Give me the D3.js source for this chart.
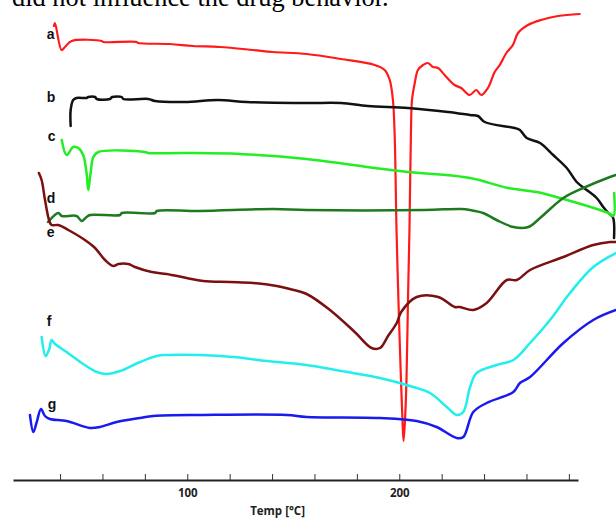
<!DOCTYPE html>
<html><head><meta charset="utf-8">
<script src="https://cdn.jsdelivr.net/npm/d3@7/dist/d3.min.js"></script>
<style>html,body{margin:0;padding:0;background:#fff;overflow:hidden}svg{display:block}</style>
</head><body>
<svg id="c" width="616" height="518"></svg>
<script>
// Temperature (°C) and heat-flow (arbitrary units)
const seriesLabels = ["a","b","c","d","e","f","g"];
const seriesColors = ["#ff1a1a","#111111","#22ee22","#1f7a1f","#7a1010","#22eeee","#1a1aee"];
const tickValues = [40,60,80,100,120,140,160,180,200,220,240,260,280];
const tickLabels = {100:"100",200:"200"};
const axisTitle = "Temp [°C]";
const captionText = "did not influence the drug behavior.";

const curveA = [[37.1,45.4],[37.6,45.7],[40.7,43.0],[42.3,43.3],[45.5,43.9],[59.6,43.9],[60.4,43.8],[76.1,43.8],[76.7,43.7],[91.8,43.6],[102.7,43.4],[115.4,43.3],[131.0,43.0],[140.4,42.8],[156.3,42.6],[172.5,42.1],[188.4,41.5],[193.1,41.0],[195.5,40.0],[197.0,38.0],[197.8,34.7],[198.7,25.0],[199.6,18.0],[200.8,10.0],[201.5,6.0],[202.0,3.9],[202.7,6.0],[203.4,10.0],[204.1,18.0],[204.8,25.0],[205.5,34.7],[206.0,38.0],[207.3,39.7],[208.8,41.0],[211.2,41.5],[213.5,41.7],[215.9,41.3],[218.3,41.2],[221.4,40.5],[226.1,39.5],[229.2,39.2],[233.2,38.5],[236.3,39.0],[238.7,38.5],[241.8,39.2],[245.0,40.8],[247.4,41.5],[250.5,42.7],[253.6,43.5],[256.0,44.7],[260.7,45.5],[266.8,46.0],[274.9,46.4],[285.1,46.6]];
const curveB = [[45.0,35.4],[45.0,37.0],[46.2,38.0],[47.8,38.2],[52.5,38.2],[53.3,38.3],[56.5,38.3],[57.3,38.1],[63.5,38.1],[64.6,38.3],[69.1,38.3],[69.8,38.1],[81.6,38.1],[84.8,37.9],[98.9,37.8],[114.5,38.0],[128.0,37.8],[156.3,37.7],[172.5,37.7],[185.2,37.4],[204.1,37.2],[223.0,36.8],[233.4,36.5],[237.1,36.4],[240.3,35.8],[254.4,35.2],[256.9,35.0],[260.1,34.2],[266.4,33.7],[272.6,32.5],[279.0,31.2],[283.7,29.8],[288.4,29.0],[293.1,28.2],[296.2,27.3],[298.6,26.7],[300.7,26.3],[301.3,25.7],[301.3,24.2]];
const curveC = [[40.8,34.0],[43.1,32.5],[46.2,33.3],[48.6,33.2],[50.9,32.5],[52.5,30.7],[53.3,29.0],[54.4,30.7],[55.7,32.3],[58.0,32.8],[80.0,32.8],[81.6,32.7],[98.9,32.7],[124.9,32.6],[156.3,32.1],[188.4,31.2],[204.1,30.8],[233.4,30.2],[251.3,29.2],[264.8,28.8],[275.8,28.2],[298.6,26.7],[301.0,26.4],[301.3,28.7]];
const curveD = [[34.3,25.8],[39.2,26.7],[40.8,26.4],[47.8,26.4],[50.2,25.9],[52.5,26.3],[54.1,26.5],[68.3,26.5],[69.1,26.7],[84.8,26.7],[85.6,26.9],[106.0,26.9],[140.6,27.1],[156.3,27.0],[212.0,27.0],[229.2,27.1],[233.4,27.0],[239.6,26.7],[245.9,26.0],[253.8,25.3],[260.9,25.3],[266.4,26.2],[277.4,28.2],[286.8,29.2],[299.4,30.3],[302.2,30.5]];
const curveE = [[30.0,30.7],[31.3,30.0],[32.9,28.0],[34.8,26.0],[36.0,25.5],[39.2,25.5],[43.9,25.0],[51.7,24.0],[56.5,23.2],[61.2,22.0],[65.1,21.4],[67.5,21.6],[72.2,21.6],[75.3,21.3],[83.2,20.8],[90.3,20.6],[99.7,20.2],[107.5,19.9],[120.1,19.8],[131.1,19.7],[142.2,19.4],[148.4,19.1],[156.3,18.6],[167.3,17.0],[179.0,14.8],[186.9,13.2],[190.9,13.2],[194.7,14.4],[198.8,15.7],[200.9,16.8],[208.2,18.3],[218.4,18.3],[226.1,17.3],[228.6,17.3],[234.9,17.0],[241.2,17.7],[250.7,20.0],[255.4,20.0],[261.7,21.0],[277.4,22.3],[291.5,23.5],[299.4,23.8],[302.2,23.8]];
const curveF = [[31.3,14.3],[33.2,12.4],[34.9,13.1],[36.0,14.0],[37.6,13.6],[43.1,12.8],[50.9,11.6],[57.3,10.8],[62.0,10.6],[68.3,10.9],[77.7,11.8],[85.6,12.4],[90.3,12.5],[106.0,12.5],[121.7,12.3],[137.5,11.9],[156.3,11.5],[172.6,10.9],[190.9,10.2],[206.6,9.3],[214.5,8.7],[222.4,7.3],[227.1,6.5],[230.2,6.8],[233.4,9.3],[236.5,10.7],[245.9,11.5],[253.8,12.0],[261.7,13.7],[271.1,16.0],[280.5,18.7],[291.5,21.3],[302.2,22.7]];
const curveG = [[25.8,6.5],[27.4,4.8],[29.0,5.8],[31.0,7.1],[32.9,6.4],[35.2,6.1],[43.1,5.9],[54.1,5.2],[58.8,5.3],[66.7,5.8],[77.7,6.2],[84.0,6.4],[107.5,6.5],[146.9,6.5],[156.3,6.3],[190.9,6.2],[208.2,5.9],[217.6,5.3],[227.1,4.2],[230.2,4.3],[234.9,6.8],[241.2,7.7],[253.8,8.8],[256.9,9.7],[261.7,10.3],[277.4,13.7],[291.5,16.0],[302.2,17.0]];
// label anchor: [temperature, heat-flow] where each letter sits
const labelAnchors = [[33.7,44.07],[33.7,37.83],[34.2,33.93],[33.7,27.73],[33.7,24.27],[33.7,15.43],[34.2,7.1]];

const series = [curveA,curveB,curveC,curveD,curveE,curveF,curveG];

const svg = d3.select("#c");
const x = d3.scaleLinear().domain([17.8, 284.3]).range([13, 578]);
const y = d3.scaleLinear().domain([0, 48]).range([480, 0]);

svg.append("text").attr("x", 12).attr("y", 6)
  .attr("font-family", "'Liberation Serif','Times New Roman',serif")
  .attr("font-size", 26.4).attr("fill", "#000").text(captionText);

const line = d3.line().x(d => x(d[0])).y(d => y(d[1])).curve(d3.curveCatmullRom.alpha(0.5));

series.forEach((s, i) => {
  svg.append("path").datum(s).attr("d", line)
    .attr("fill", "none").attr("stroke", seriesColors[i])
    .attr("stroke-width", i === 0 ? 2.2 : 2.5).attr("stroke-linejoin", "round").attr("stroke-linecap", "round");
});

seriesLabels.forEach((l, i) => {
  svg.append("text").attr("x", x(labelAnchors[i][0])).attr("y", y(labelAnchors[i][1]))
    .attr("font-family", "'Liberation Sans',Arial,sans-serif").attr("font-weight", "bold")
    .attr("font-size", 14).attr("fill", "#111").text(l);
});

const axis = d3.axisBottom(x).tickValues(tickValues)
  .tickFormat(d => tickLabels[d] || "").tickSizeInner(-6).tickSizeOuter(0).tickPadding(9);
const ag = svg.append("g").attr("transform", "translate(0,480)").call(axis);
ag.select(".domain").attr("stroke", "#222").attr("stroke-width", 2);
ag.selectAll(".tick line").attr("stroke", "#333").attr("stroke-width", 1);
ag.selectAll(".tick text").attr("font-family", "'Open Sans',sans-serif").attr("font-weight", "bold")
  .attr("font-size", 11.5).attr("fill", "#222");

svg.append("text").attr("x", x(142.6)).attr("y", 515).attr("text-anchor", "middle")
  .attr("font-family", "'Open Sans',sans-serif").attr("font-weight", "bold")
  .attr("font-size", 11.5).attr("fill", "#222").text(axisTitle);
</script>
</body></html>
